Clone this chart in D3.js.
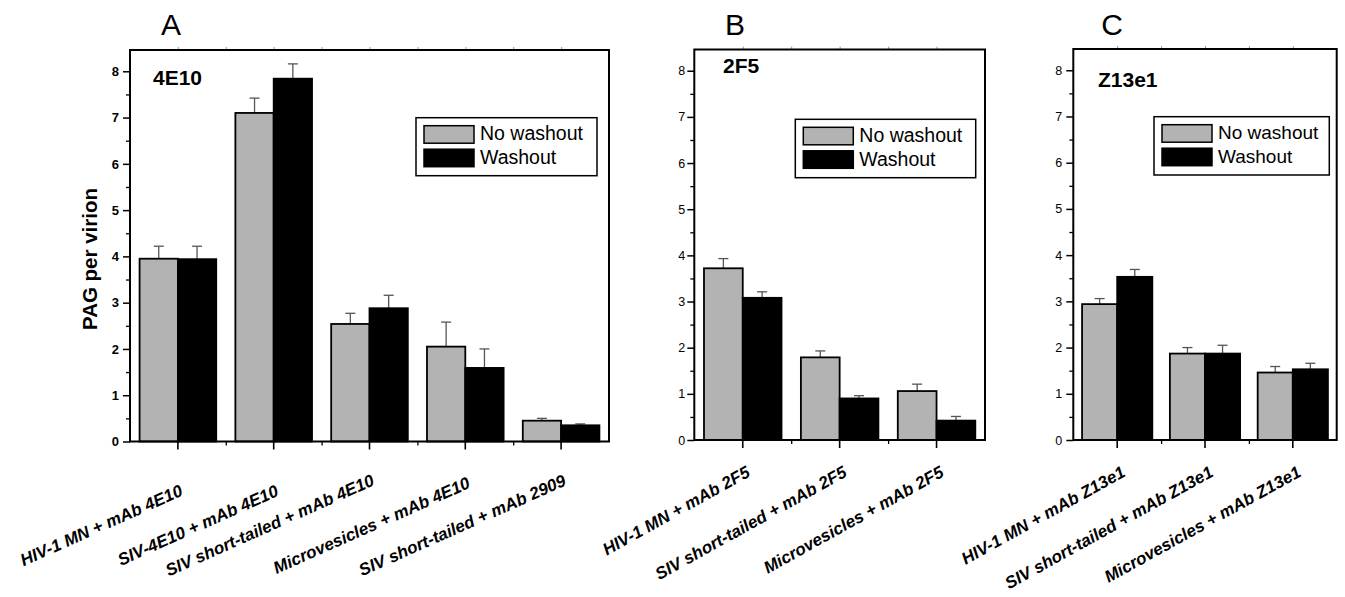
<!DOCTYPE html>
<html>
<head>
<meta charset="utf-8">
<script src="https://cdn.jsdelivr.net/npm/d3@7"></script>
<style>
  body { margin: 0; background: #fff; }
  svg { display: block; font-family: "Liberation Sans", Arial, Helvetica, sans-serif; }
</style>
</head>
<body>
<svg id="chart" width="1345" height="597"></svg>
<script>
// ---- data ----
const seriesNames = ["No washout", "Washout"];
const yTicks = [0, 1, 2, 3, 4, 5, 6, 7, 8];
const yMinorTicks = [0.5, 1.5, 2.5, 3.5, 4.5, 5.5, 6.5, 7.5];

const catsA = ["HIV-1 MN + mAb 4E10", "SIV-4E10 + mAb 4E10", "SIV short-tailed + mAb 4E10",
  "Microvesicles + mAb 4E10", "SIV short-tailed + mAb 2909"];
const noWashA = [3.95, 7.10, 2.54, 2.05, 0.45];
const noWashErrA = [0.27, 0.32, 0.23, 0.53, 0.05];
const washA = [3.94, 7.84, 2.88, 1.59, 0.35];
const washErrA = [0.28, 0.32, 0.28, 0.41, 0.03];

const catsB = ["HIV-1 MN + mAb 2F5", "SIV short-tailed + mAb 2F5", "Microvesicles + mAb 2F5"];
const noWashB = [3.72, 1.79, 1.06];
const noWashErrB = [0.21, 0.14, 0.15];
const washB = [3.08, 0.90, 0.42];
const washErrB = [0.13, 0.06, 0.09];

const catsC = ["HIV-1 MN + mAb Z13e1", "SIV short-tailed + mAb Z13e1", "Microvesicles + mAb Z13e1"];
const noWashC = [2.94, 1.87, 1.46];
const noWashErrC = [0.12, 0.13, 0.13];
const washC = [3.53, 1.87, 1.53];
const washErrC = [0.16, 0.18, 0.13];

const grey = "#b3b3b3";
const colors = [grey, "#000"];

const svg = d3.select("#chart");

function drawPanel(p) {
  const g = svg.append("g");
  const x = d3.scaleBand().domain(p.cats).range([p.left, p.right]).padding(0);
  const x1 = d3.scaleBand().domain([0, 1]).range([0, x.bandwidth()]).paddingOuter(0.25).paddingInner(0);
  const y = d3.scaleLinear().domain([0, 8.46]).range([p.bottom, p.top]);
  const edges = d3.scaleLinear().domain([0, p.cats.length]).range([p.left, p.right]);

  // bars
  const rows = p.cats.map((c, i) => ({ c, vals: [p.s0[i], p.s1[i]], errs: [p.e0[i], p.e1[i]] }));
  const grp = g.selectAll(".grp").data(rows).enter().append("g")
    .attr("transform", d => "translate(" + x(d.c) + ",0)");
  const bars = grp.selectAll("g.b").data(d => d.vals.map((v, k) => ({ v, k, e: d.errs[k] })))
    .enter().append("g").attr("class", "b");
  // error bars (upper only)
  bars.append("line")
    .attr("x1", d => x1(d.k) + x1.bandwidth() / 2).attr("x2", d => x1(d.k) + x1.bandwidth() / 2)
    .attr("y1", d => y(d.v)).attr("y2", d => y(d.v + d.e))
    .attr("stroke", "#555").attr("stroke-width", 1.3);
  bars.append("line")
    .attr("x1", d => x1(d.k) + x1.bandwidth() / 2 - 5).attr("x2", d => x1(d.k) + x1.bandwidth() / 2 + 5)
    .attr("y1", d => y(d.v + d.e)).attr("y2", d => y(d.v + d.e))
    .attr("stroke", "#555").attr("stroke-width", 1.3);
  bars.append("rect")
    .attr("x", d => x1(d.k)).attr("width", x1.bandwidth())
    .attr("y", d => y(d.v)).attr("height", d => y(0) - y(d.v))
    .attr("fill", d => colors[d.k]).attr("stroke", "#000").attr("stroke-width", 1.8);

  // y axis ticks
  const yAx = g.append("g").attr("transform", "translate(" + p.left + ",0)")
    .call(d3.axisLeft(y).tickValues(yTicks).tickSize(7).tickPadding(p.yPad).tickFormat(d3.format("d")));
  yAx.select(".domain").remove();
  yAx.selectAll("line").attr("stroke-width", 1.5);
  yAx.selectAll("text").attr("font-size", p.boldTicks ? 13 : 12.5).attr("font-weight", p.boldTicks ? "bold" : "normal")
    .attr("fill", "#000").attr("font-family", null);
  const yMin = g.append("g").attr("transform", "translate(" + p.left + ",0)")
    .call(d3.axisLeft(y).tickValues(yMinorTicks).tickSize(4).tickFormat(""));
  yMin.select(".domain").remove();
  yMin.selectAll("line").attr("stroke-width", 1.3);

  // x axis ticks: major at group centres, minor at group edges
  const xAx = g.append("g").attr("transform", "translate(0," + p.bottom + ")")
    .call(d3.axisBottom(x).tickSize(8).tickFormat(""));
  xAx.select(".domain").remove();
  xAx.selectAll("line").attr("stroke-width", 1.6);
  const xMin = g.append("g").attr("transform", "translate(0," + p.bottom + ")")
    .call(d3.axisBottom(edges).tickValues(d3.range(1, p.cats.length)).tickSize(4).tickFormat(""));
  xMin.select(".domain").remove();
  xMin.selectAll("line").attr("stroke-width", 1.3);
  // faint ticks on the top edge
  const topAx = g.append("g").attr("transform", "translate(0," + p.top + ")")
    .call(d3.axisTop(edges).tickValues(d3.range(0.5, p.cats.length, 0.5)).tickSize(3).tickFormat(""));
  topAx.select(".domain").remove();
  topAx.selectAll("line").attr("stroke", "#999").attr("stroke-width", 1);

  // frame
  g.append("rect").attr("x", p.left).attr("y", p.top)
    .attr("width", p.right - p.left).attr("height", p.bottom - p.top)
    .attr("fill", "none").attr("stroke", "#000").attr("stroke-width", 2);

  // x category labels
  const th = p.angle * Math.PI / 180, s = Math.sin(th), c = Math.cos(th), h = 0.716 * 17;
  p.cats.forEach(cat => {
    const t = g.append("text").text(cat)
      .attr("font-size", 17).attr("font-weight", "bold").attr("font-style", "italic")
      .attr("text-anchor", "end");
    const L = t.node().getComputedTextLength();
    const xr = x(cat) + x.bandwidth() / 2 + p.labDx;
    const yTop = p.labMode === "center" ? p.labY - (L * s + h * c) / 2 : p.labY;
    t.attr("transform", "translate(" + (xr + h * s) + "," + (yTop + h * c) + ") rotate(" + (-p.angle) + ")");
  });

  // antibody name
  g.append("text").attr("x", p.nameX).attr("y", p.nameY).text(p.name)
    .attr("font-size", 21).attr("font-weight", "bold");

  // panel letter
  g.append("text").attr("x", p.letterX).attr("y", 35).attr("text-anchor", "middle")
    .attr("font-size", 30).text(p.letter);

  // legend
  const lg = g.append("g");
  lg.append("rect").attr("x", p.leg.x).attr("y", p.leg.y).attr("width", p.leg.w).attr("height", p.leg.h)
    .attr("fill", "#fff").attr("stroke", "#000").attr("stroke-width", 1.5);
  seriesNames.forEach((nm, k) => {
    lg.append("rect").attr("x", p.leg.x + 8).attr("y", p.leg.y + 8 + k * 23.5)
      .attr("width", 50).attr("height", 17.5)
      .attr("fill", colors[k]).attr("stroke", "#000").attr("stroke-width", 1.5);
    lg.append("text").attr("x", p.leg.x + 64).attr("y", p.leg.y + 22.5 + k * 24)
      .attr("font-size", p.leg.fs).text(nm);
  });
}

drawPanel({
  cats: catsA, s0: noWashA, e0: noWashErrA, s1: washA, e1: washErrA,
  left: 130, right: 609, top: 50, bottom: 441.5, yPad: 4, boldTicks: true,
  angle: 24, labMode: "center", labDx: 1, labY: 525,
  name: "4E10", nameX: 153, nameY: 84.5, letter: "A", letterX: 171,
  leg: { x: 416, y: 117.7, w: 181, h: 58, fs: 19.5 }
});
drawPanel({
  cats: catsB, s0: noWashB, e0: noWashErrB, s1: washB, e1: washErrB,
  left: 694.3, right: 985, top: 49.5, bottom: 440, yPad: 2, boldTicks: false,
  angle: 29, labMode: "end", labDx: 2.5, labY: 465,
  name: "2F5", nameX: 723, nameY: 72.5, letter: "B", letterX: 735,
  leg: { x: 795.3, y: 119.3, w: 180.4, h: 58.4, fs: 19.5 }
});
drawPanel({
  cats: catsC, s0: noWashC, e0: noWashErrC, s1: washC, e1: washErrC,
  left: 1073.3, right: 1336.7, top: 49, bottom: 440, yPad: 4, boldTicks: false,
  angle: 29, labMode: "end", labDx: 3.5, labY: 465,
  name: "Z13e1", nameX: 1098, nameY: 86.5, letter: "C", letterX: 1112,
  leg: { x: 1154, y: 116.7, w: 175.3, h: 58.3, fs: 19 }
});

// shared y-axis title
svg.append("text")
  .attr("transform", "translate(97,259) rotate(-90)")
  .attr("text-anchor", "middle").attr("font-size", 20.5).attr("font-weight", "bold")
  .text("PAG per virion");
</script>
</body>
</html>
